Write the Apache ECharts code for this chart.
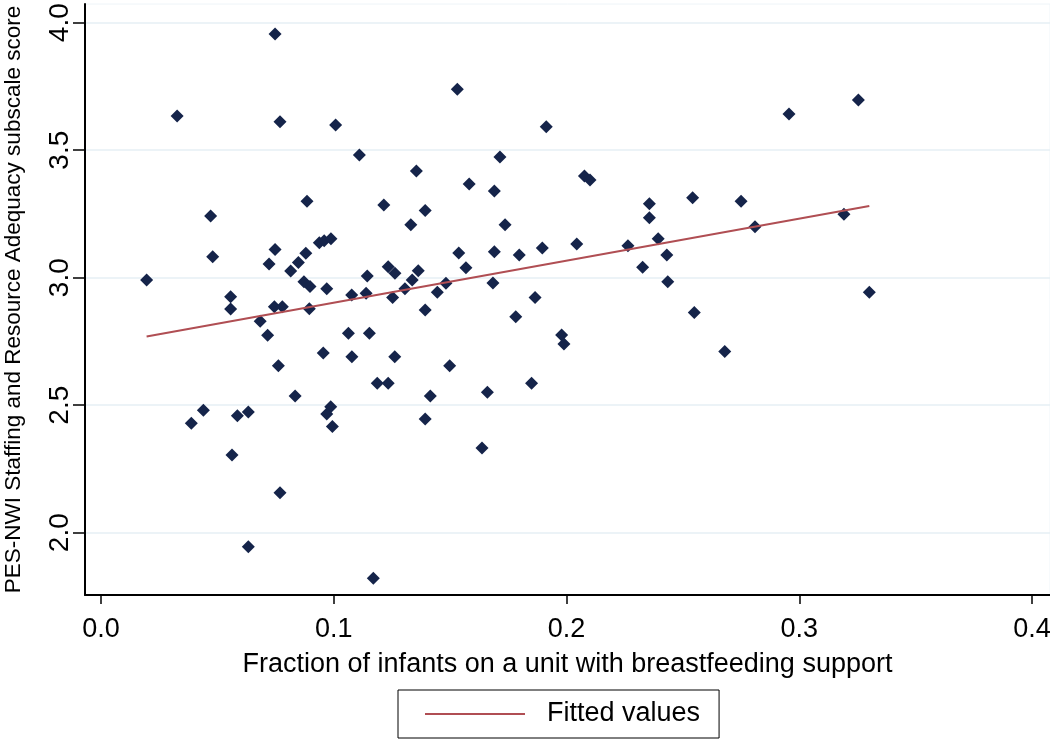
<!DOCTYPE html>
<html>
<head>
<meta charset="utf-8">
<script src="https://cdn.jsdelivr.net/npm/echarts@6/dist/echarts.min.js"></script>
<style>
html,body{margin:0;padding:0;background:#fff;}
#chart{width:1050px;height:743px;}
</style>
</head>
<body>
<div id="chart"></div>
<script>
const xTitle = 'Fraction of infants on a unit with breastfeeding support';
const yTitle = 'PES-NWI Staffing and Resource Adequacy subscale score';
const legendLabel = 'Fitted values';
const xTicks = [0.0, 0.1, 0.2, 0.3, 0.4];
const yTicks = [2.0, 2.5, 3.0, 3.5, 4.0];

const xValues = [
  0.0748,0.0327,0.0769,0.1008,0.1110,0.0885,0.0471,0.0480,0.0748,0.0722,
  0.0880,0.0848,0.0815,0.0938,0.0959,0.0988,0.0872,0.0898,0.0970,0.1144,
  0.0196,0.0557,0.1077,0.1139,0.0557,0.0745,0.0779,0.0895,0.0684,0.0716,
  0.1063,0.1153,0.0955,0.1078,0.0762,0.1187,0.0834,0.0440,0.0388,0.0586,
  0.0633,0.0987,0.0970,0.0994,0.0563,0.0769,0.0633,0.1170,0.1531,0.1913,
  0.1714,0.1355,0.1582,0.1690,0.2077,0.2101,0.1215,0.1393,0.1331,0.1736,
  0.2356,0.2356,0.1537,0.1690,0.1797,0.1896,0.2044,0.2264,0.2394,0.2431,
  0.1234,0.1263,0.1363,0.1337,0.1568,0.1306,0.1482,0.1445,0.1253,0.1684,
  0.1865,0.2327,0.2435,0.1393,0.1782,0.1979,0.1989,0.1262,0.1498,0.1234,
  0.1850,0.1415,0.1660,0.1393,0.1637,0.3254,0.2956,0.2542,0.2750,0.3192,
  0.2810,0.3301,0.2549,0.2680
];
const yValues = [
  3.956,3.634,3.612,3.599,3.481,3.300,3.242,3.082,3.111,3.054,
  3.096,3.060,3.026,3.137,3.145,3.153,2.984,2.965,2.957,3.007,
  2.991,2.925,2.932,2.939,2.877,2.886,2.886,2.878,2.829,2.774,
  2.782,2.782,2.705,2.690,2.655,2.586,2.536,2.480,2.429,2.459,
  2.473,2.494,2.465,2.416,2.305,2.157,1.945,1.821,3.739,3.592,
  3.473,3.418,3.367,3.340,3.399,3.383,3.285,3.264,3.208,3.208,
  3.290,3.235,3.097,3.102,3.089,3.116,3.132,3.125,3.153,3.089,
  3.043,3.017,3.027,2.991,3.039,2.957,2.978,2.943,2.922,2.979,
  2.922,3.041,2.984,2.873,2.847,2.775,2.740,2.690,2.655,2.586,
  2.586,2.536,2.551,2.446,2.332,3.697,3.642,3.314,3.300,3.249,
  3.200,2.943,2.864,2.711
];
const fitX = [0.0196, 0.3301];
const fitY = [2.769, 3.281];

const scatterData = xValues.map((x, i) => [x, yValues[i]]);
const fitData = fitX.map((x, i) => [x, fitY[i]]);

const FONT = "'Liberation Sans', Arial, sans-serif";
const LINE_COLOR = '#b04e53';
const chart = echarts.init(document.getElementById('chart'), null, {renderer: 'canvas'});
chart.setOption({
  backgroundColor: '#ffffff',
  animation: false,
  grid: {
    left: 85, right: 0, top: 4, bottom: 148,
    show: true, borderColor: '#eef4f8', borderWidth: 1,
    containLabel: false, outerBoundsMode: 'none'
  },
  legend: {
    data: [{name: legendLabel, icon: 'rect'}],
    left: 398, top: 690,
    padding: [10, 19, 10, 27],
    borderColor: '#000', borderWidth: 1,
    itemWidth: 100, itemHeight: 2,
    itemStyle: {color: LINE_COLOR},
    textStyle: {fontFamily: FONT, fontSize: 27, color: '#000', padding: [0, 0, 0, 17], lineHeight: 28}
  },
  xAxis: {
    type: 'value',
    min: -0.00687, max: 0.40773,
    name: xTitle, nameLocation: 'middle', nameGap: 56,
    nameTextStyle: {fontFamily: FONT, fontSize: 27, color: '#000'},
    axisLine: {show: true, onZero: false, lineStyle: {color: '#000', width: 2}},
    axisTick: {show: true, length: 9, customValues: xTicks, lineStyle: {color: '#000', width: 1.5}},
    axisLabel: {customValues: xTicks, margin: 21, fontFamily: FONT, fontSize: 27, color: '#000',
      formatter: v => v.toFixed(1)},
    splitLine: {show: false}
  },
  yAxis: {
    type: 'value',
    min: 1.7557, max: 4.0733,
    name: yTitle, nameLocation: 'middle', nameGap: 60, nameRotate: 90,
    nameTextStyle: {fontFamily: FONT, fontSize: 22.5, color: '#000'},
    axisLine: {show: true, onZero: false, lineStyle: {color: '#000', width: 2}},
    axisTick: {show: true, length: 12, customValues: yTicks, lineStyle: {color: '#000', width: 1.5}},
    axisLabel: {customValues: yTicks, rotate: 90, margin: 11, fontFamily: FONT, fontSize: 28, color: '#000',
      formatter: v => v.toFixed(1)},
    splitLine: {show: true, lineStyle: {color: '#e6eff5', width: 1.5}}
  },
  series: [
    {
      type: 'scatter', name: 'data', data: scatterData,
      symbol: 'diamond', symbolSize: 13,
      itemStyle: {color: '#15244a', opacity: 1}
    },
    {
      type: 'line', name: legendLabel, data: fitData,
      symbol: 'none', showSymbol: false,
      lineStyle: {color: LINE_COLOR, width: 2},
      itemStyle: {color: LINE_COLOR}
    }
  ]
});
</script>
</body>
</html>
